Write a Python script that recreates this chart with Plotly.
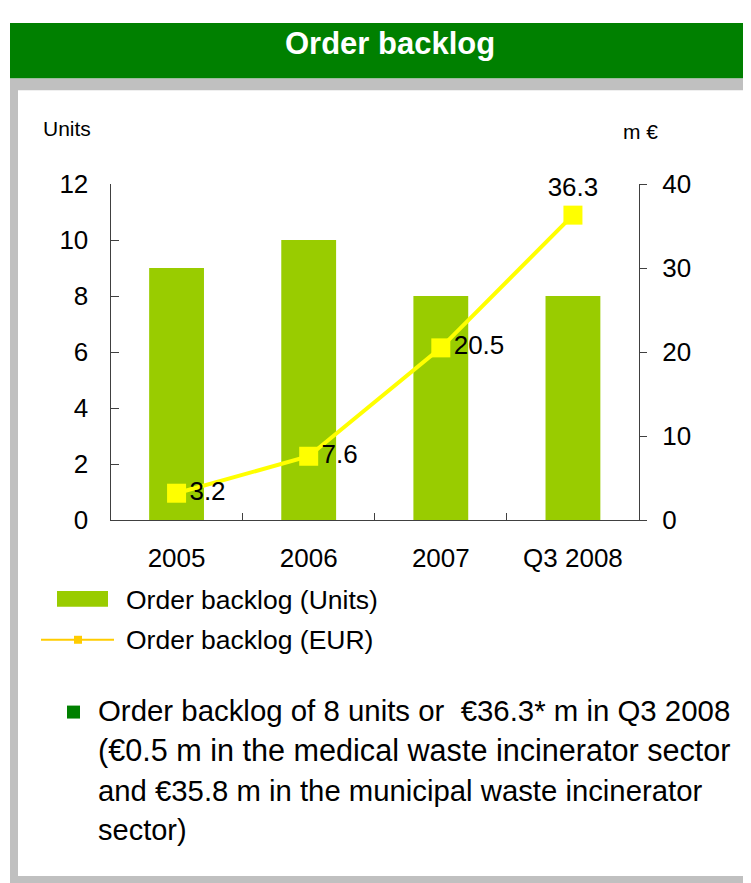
import plotly.graph_objects as go

categories = ["2005", "2006", "2007", "Q3 2008"]
units = [9, 10, 8, 8]
eur_m = [3.2, 7.6, 20.5, 36.3]
eur_labels = ["3.2", "7.6", "20.5", "36.3"]
units_ticks = [0, 2, 4, 6, 8, 10, 12]
eur_ticks = [0, 10, 20, 30, 40]
bullet_lines = [
    "Order backlog of 8 units or  €36.3* m in Q3 2008",
    "(€0.5 m in the medical waste incinerator sector",
    "and €35.8 m in the municipal waste incinerator",
    "sector)",
]
bullet_sizes = [29.4, 30.6, 29.3, 29.0]

# mapping from target picture pixels to figure pixels (page offset / photo scaling)
OFF_X = 8
OFF_Y, SY = 21.5, 0.969
W, H = 743, 890
FONT = "Liberation Sans, Arial, sans-serif"


def px(x):
    return min(1.0, max(0.0, (x - OFF_X) / W))


def py(y):
    return min(1.0, max(0.0, 1 - ((y - OFF_Y) / SY) / H))


fig = go.Figure()
fig.add_trace(go.Bar(
    x=categories, y=units, name="Order backlog (Units)",
    marker=dict(color="#99CC00", line=dict(width=0)),
    yaxis="y", showlegend=False,
))
fig.add_trace(go.Scatter(
    x=categories, y=eur_m, name="Order backlog (EUR)",
    mode="lines+markers+text", yaxis="y2",
    line=dict(color="#FFFF00", width=4),
    marker=dict(symbol="square", size=19, color="#FFFF00"),
    text=eur_labels,
    textposition=["middle right", "middle right", "middle right", "top center"],
    textfont=dict(size=26, color="#000000", family=FONT),
    cliponaxis=False, showlegend=False,
))

shapes = []
# gray frame
shapes.append(dict(type="rect", xref="paper", yref="paper", x0=px(10), x1=1, y0=0, y1=py(77),
                   fillcolor="#C0C0C0", line=dict(width=0), layer="below"))
shapes.append(dict(type="rect", xref="paper", yref="paper", x0=px(18), x1=px(743), y0=py(877), y1=py(89),
                   fillcolor="#FFFFFF", line=dict(width=0), layer="below"))
# green header
shapes.append(dict(type="rect", xref="paper", yref="paper", x0=px(10), x1=1, y0=py(77), y1=1,
                   fillcolor="#008000", line=dict(width=0), layer="below"))
# legend symbols
shapes.append(dict(type="rect", xref="paper", yref="paper", x0=px(57), x1=px(108), y0=py(607), y1=py(591),
                   fillcolor="#99CC00", line=dict(width=0)))
shapes.append(dict(type="line", xref="paper", yref="paper", x0=px(41), x1=px(114), y0=py(640), y1=py(640),
                   line=dict(color="#FFCC00", width=2)))
shapes.append(dict(type="rect", xref="paper", yref="paper", x0=px(74), x1=px(82), y0=py(644), y1=py(636),
                   fillcolor="#FFCC00", line=dict(width=0)))
# bullet square
shapes.append(dict(type="rect", xref="paper", yref="paper", x0=px(67), x1=px(80), y0=py(719), y1=py(706),
                   fillcolor="#008000", line=dict(width=0)))

annotations = []
annotations.append(dict(text="<b>Order backlog</b>", x=px(390), y=py(42), xref="paper", yref="paper",
                        xanchor="center", yanchor="middle", showarrow=False,
                        font=dict(size=31, color="#FFFFFF", family=FONT)))
annotations.append(dict(text="Units", x=px(41), y=py(127), xref="paper", yref="paper",
                        xanchor="left", yanchor="middle", showarrow=False,
                        font=dict(size=21, color="#000000", family=FONT)))
annotations.append(dict(text="m €", x=px(621), y=py(130), xref="paper", yref="paper",
                        xanchor="left", yanchor="middle", showarrow=False,
                        font=dict(size=21, color="#000000", family=FONT)))
annotations.append(dict(text="Order backlog (Units)", x=px(124), y=py(600), xref="paper", yref="paper",
                        xanchor="left", yanchor="middle", showarrow=False,
                        font=dict(size=26.5, color="#000000", family=FONT)))
annotations.append(dict(text="Order backlog (EUR)", x=px(124), y=py(640), xref="paper", yref="paper",
                        xanchor="left", yanchor="middle", showarrow=False,
                        font=dict(size=26.5, color="#000000", family=FONT)))
for i, line in enumerate(bullet_lines):
    annotations.append(dict(text=line, x=px(96), y=py(711 + 40 * i), xref="paper", yref="paper",
                            xanchor="left", yanchor="middle", showarrow=False,
                            font=dict(size=bullet_sizes[i], color="#000000", family=FONT)))

fig.update_layout(
    width=W, height=H,
    margin=dict(l=0, r=0, t=0, b=0),
    paper_bgcolor="#FFFFFF", plot_bgcolor="rgba(0,0,0,0)",
    font=dict(family=FONT, color="#000000"),
    bargap=0.585,
    xaxis=dict(
        domain=[px(110.5), px(639)],
        type="category",
        showline=True, linecolor="#404040", linewidth=1,
        ticks="inside", tickson="boundaries", ticklen=7, tickcolor="#404040",
        showgrid=False, zeroline=False,
        tickfont=dict(size=26, color="#000000", family=FONT),
        ticklabelstandoff=15,
    ),
    yaxis=dict(
        domain=[py(520), py(183)],
        range=[0, 12], tickvals=units_ticks,
        showline=True, linecolor="#404040", linewidth=1,
        ticks="inside", ticklen=8, tickcolor="#404040",
        showgrid=False, zeroline=False,
        tickfont=dict(size=26, color="#000000", family=FONT),
        ticklabelstandoff=16,
    ),
    yaxis2=dict(
        overlaying="y", side="right", anchor="x",
        range=[0, 40], tickvals=eur_ticks,
        showline=True, linecolor="#404040", linewidth=1,
        ticks="outside", ticklen=7, tickcolor="#404040",
        showgrid=False, zeroline=False,
        tickfont=dict(size=26, color="#000000", family=FONT),
        ticklabelstandoff=10,
    ),
    shapes=shapes,
    annotations=annotations,
)

fig.write_html("out.html")
